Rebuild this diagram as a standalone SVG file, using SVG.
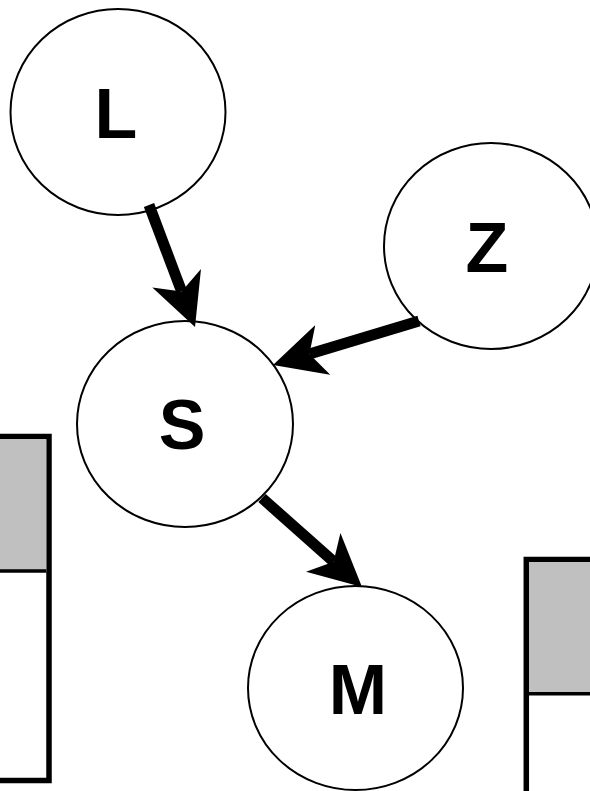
<svg xmlns="http://www.w3.org/2000/svg" width="590" height="791" viewBox="0 0 590 791">
<style>
.node ellipse{fill:#fff;stroke:#000;stroke-width:2}
.node text{font-family:"Liberation Sans",Arial,sans-serif;font-weight:bold;font-size:70px;fill:#000;text-anchor:middle}
.edge{stroke:#000;stroke-width:11;fill:none;marker-end:url(#ah)}
.frame{fill:#fff;stroke:#000;stroke-width:5.5}
.band{fill:#c0c0c0}
.sep{stroke:#000;stroke-width:3.5}
</style>
<defs>
<marker id="ah" markerUnits="userSpaceOnUse" viewBox="0 0 52 52" markerWidth="52" markerHeight="52" refX="14" refY="26" orient="auto">
<path d="M52,26 L0,0 L14,26 L0,52 Z" fill="#000"/>
</marker>
</defs>
<g id="panel-left">
<rect class="frame" x="-10" y="436.5" width="59" height="344"/>
<rect class="band" x="-10" y="439.3" width="56.3" height="131.7"/>
<line class="sep" x1="-10" y1="571" x2="46.3" y2="571"/>
</g>
<g id="panel-right">
<rect class="frame" x="526.3" y="559.5" width="80" height="250"/>
<rect class="band" x="529" y="562.2" width="70" height="131.5"/>
<line class="sep" x1="529" y1="693.7" x2="600" y2="693.7"/>
</g>
<g id="node-L" class="node">
<ellipse cx="118" cy="112" rx="107.5" ry="103"/>
<text x="116" y="138">L</text>
</g>
<g id="node-Z" class="node">
<ellipse cx="491" cy="246" rx="107" ry="103"/>
<text x="487" y="272">Z</text>
</g>
<g id="node-S" class="node">
<ellipse cx="185" cy="424" rx="108" ry="103"/>
<text x="182" y="449">S</text>
</g>
<g id="node-M" class="node">
<ellipse cx="355.5" cy="688" rx="107.5" ry="102"/>
<text x="358" y="714">M</text>
</g>
<g id="connectors">
<line class="edge" x1="149" y1="205" x2="181.6" y2="291.4"/>
<line class="edge" x1="419" y1="321" x2="309.4" y2="354"/>
<line class="edge" x1="262" y1="498" x2="333.6" y2="561.7"/>
</g>
</svg>
